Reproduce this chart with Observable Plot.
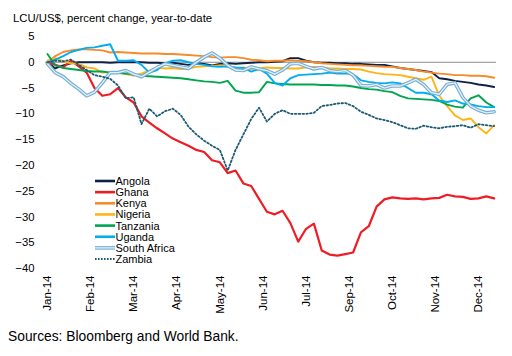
<!DOCTYPE html>
<html>
<head>
<meta charset="utf-8">
<script src="https://cdn.jsdelivr.net/npm/d3@7"></script>
<script src="https://cdn.jsdelivr.net/npm/@observablehq/plot@0.6"></script>
<style>
  html, body { margin: 0; padding: 0; background: #fff; }
  #chart svg { display: block; }
</style>
</head>
<body>
<div id="chart"></div>
<script>
// ---- Data (trading-day index, sampled every 4 days) ----
const titleText = "LCU/US$, percent change, year-to-date";
const captionText = "Sources: Bloomberg and World Bank.";
const monthLabels = ["Jan-14","Feb-14","Mar-14","Apr-14","May-14","Jun-14","Jul-14","Sep-14","Oct-14","Nov-14","Dec-14"];
const monthTickDays = [0,22,44,66,88,110,132,154,176,198,220];
const yTicks = [5,0,-5,-10,-15,-20,-25,-30,-35,-40];
const sampleStep = 4;

const angola = [0,-1.2,-0.6,-0.2,0,0,0,0,-0.1,0,0,0,0,-0.1,-0.1,-0.2,-0.1,-0.3,-0.5,-0.2,-0.3,-0.6,-0.3,-0.2,-0.3,-0.2,-0.1,0,0,0.1,0.2,0.8,0.8,0.3,0,-0.1,-0.1,-0.2,-0.2,-0.3,-0.3,-0.4,-0.5,-0.5,-0.8,-1.1,-1.3,-1.5,-1.7,-1.9,-3.1,-3.3,-3.6,-3.8,-4.0,-4.3,-4.5,-4.8];
const ghana = [0,-0.5,-1.0,0.3,-0.8,-2.0,-5.0,-6.5,-6.2,-5.0,-6.8,-7.8,-10.5,-11.7,-12.8,-13.8,-14.8,-15.5,-16.2,-17.0,-17.4,-19.0,-19.4,-21.5,-21.0,-23.5,-24.0,-26.5,-29.0,-29.5,-28.8,-31.2,-34.8,-32.3,-31.3,-36.5,-37.3,-37.5,-37.2,-36.9,-33.0,-31.8,-28.0,-26.6,-26.2,-26.4,-26.5,-26.4,-26.6,-26.4,-26.3,-25.7,-26.0,-26.1,-26.5,-26.4,-26.0,-26.4];
const kenya = [0,1.2,2.0,2.3,2.5,2.5,2.4,2.3,1.9,2.0,1.9,1.8,1.7,1.7,1.7,1.6,1.6,1.5,1.4,1.3,1.2,1.0,0.9,1.0,1.0,0.8,0.5,0.4,0.2,0.3,0.3,0.4,0.3,0.2,0,-0.2,-0.3,-0.4,-0.5,-0.6,-0.6,-0.7,-0.8,-0.9,-0.9,-1.1,-1.3,-1.5,-1.8,-2.0,-2.2,-2.3,-2.5,-2.5,-2.6,-2.6,-2.7,-3.0];
const nigeria = [0.3,0.8,0.2,-0.2,-0.3,-1.0,-1.2,-2.0,-1.9,-2.0,-2.3,-2.6,-2.2,-1.6,-1.0,-1.2,-1.1,-1.3,-1.2,-0.9,-0.8,-0.7,-0.6,-0.9,-1.2,-1.0,-1.3,-1.2,-1.0,-1.1,-1.1,-1.2,-1.2,-1.0,-0.9,-1.0,-1.2,-1.2,-1.3,-1.3,-1.4,-1.8,-2.1,-2.3,-2.4,-2.5,-2.8,-3.1,-3.4,-2.8,-6.5,-8.5,-10.3,-11.2,-10.9,-12.6,-13.8,-12.2];
const tanzania = [1.6,-0.6,-1.1,-1.3,-1.5,-1.7,-1.8,-1.8,-2.0,-2.1,-2.2,-2.4,-2.6,-2.7,-2.8,-2.9,-3.0,-3.1,-3.3,-3.5,-3.7,-3.8,-4.0,-3.6,-5.5,-5.9,-5.9,-5.8,-3.8,-4.1,-4.2,-4.3,-4.3,-4.3,-4.3,-4.4,-4.4,-4.5,-4.5,-4.7,-5.0,-5.2,-5.3,-5.6,-5.8,-6.5,-7.0,-7.1,-7.2,-7.3,-7.5,-8.2,-8.6,-8.8,-7.0,-6.4,-7.8,-8.7];
const uganda = [0,0.5,1.2,2.0,2.4,2.8,2.9,3.2,3.5,0.3,0.3,0.4,-0.5,-2.0,-1.5,-0.2,0.3,0.4,0,-0.3,-0.5,-0.8,-0.9,-0.8,-1.0,-1.1,-1.8,-1.3,-2.2,-4.0,-4.5,-3.1,-2.5,-2.4,-2.3,-2.2,-2.0,-2.2,-2.2,-2.3,-3.5,-3.8,-4.0,-4.1,-3.9,-4.1,-5.0,-5.9,-5.9,-6.2,-7.4,-7.7,-7.4,-8.0,-8.2,-8.5,-8.7,-8.7];
const southAfrica = [-0.3,-2.0,-2.8,-4.1,-5.2,-6.5,-5.8,-4.0,-2.0,-2.0,-1.6,-2.3,-2.8,-1.9,-1.0,-0.3,-0.6,-0.9,-1.2,0,1.0,1.8,0.8,-0.6,-1.5,-1.6,-0.9,-1.3,-1.6,-2.3,-1.5,-0.3,-0.2,-0.8,-1.3,-1.0,-1.6,-1.8,-1.6,-2.5,-4.5,-4.6,-4.3,-5.0,-4.6,-4.6,-4.0,-3.3,-4.3,-5.9,-6.2,-4.3,-4.0,-6.8,-8.5,-9.3,-9.8,-9.6];
const zambia = [0,0.3,0.2,0.5,-0.5,-1.5,-2.5,-2.8,-3.2,-4.5,-7.0,-6.8,-12.0,-9.0,-10.5,-9.5,-9.0,-10.2,-12.5,-14.0,-15.2,-16.2,-17.0,-21.0,-17.0,-14.0,-11.0,-8.8,-11.5,-10.0,-9.3,-10.0,-10.0,-10.0,-9.8,-8.5,-8.3,-8.0,-7.9,-8.5,-9.6,-10.2,-10.9,-11.2,-11.6,-12.2,-12.8,-12.9,-12.3,-12.6,-12.8,-12.5,-12.4,-12.2,-12.7,-12.0,-12.2,-12.4];

const seriesNames = ["Angola","Ghana","Kenya","Nigeria","Tanzania","Uganda","South Africa","Zambia"];
const seriesValues = [angola, ghana, kenya, nigeria, tanzania, uganda, southAfrica, zambia];
const seriesColors = ["#0c2147","#ee1c25","#f68b2a","#fdb515","#00a54f","#00adef","#74aed3","#1d5a74"];

// ---- Build table ----
const rows = (k) => seriesValues[k].map((v, i) => ({day: i * sampleStep, value: v, series: seriesNames[k]}));

const font = 'Arial, "Liberation Sans", Helvetica, sans-serif';
const lineMarks = [];
seriesNames.forEach((name, k) => {
  const data = rows(k);
  if (name === "South Africa") {
    lineMarks.push(Plot.lineY(data, {x: "day", y: "value", stroke: seriesColors[k], strokeWidth: 3.6}));
    lineMarks.push(Plot.lineY(data, {x: "day", y: "value", stroke: "#e4f0f8", strokeWidth: 1.3}));
  } else if (name === "Zambia") {
    lineMarks.push(Plot.lineY(data, {x: "day", y: "value", stroke: seriesColors[k], strokeWidth: 1.8, strokeDasharray: "1.6,2.2"}));
  } else {
    lineMarks.push(Plot.lineY(data, {x: "day", y: "value", stroke: seriesColors[k], strokeWidth: name === "Ghana" ? 2.2 : 1.9}));
  }
});

const chart = Plot.plot({
  width: 512,
  height: 356,
  marginTop: 36,
  marginBottom: 88,
  marginLeft: 45,
  marginRight: 16,
  style: {fontFamily: font, fontSize: "11px", color: "#000", background: "#fff"},
  x: {domain: [-1, 229.2], axis: null},
  y: {domain: [-40, 5], axis: null},
  marks: [
    Plot.ruleY([0], {stroke: "#8c8c8c", strokeWidth: 1}),
    Plot.axisY({ticks: yTicks, tickSize: 0, tickPadding: 11, label: null, fontSize: 11.3}),
    Plot.axisX({ticks: monthTickDays, tickFormat: d => monthLabels[monthTickDays.indexOf(d)], tickSize: 0, tickPadding: 7, tickRotate: -90, label: null, fontSize: 11.5}),
    ...lineMarks
  ]
});

document.getElementById("chart").appendChild(chart);

// ---- Title, caption and legend drawn into the SVG ----
const svg = d3.select(chart);
svg.append("text").attr("x", 13).attr("y", 21.5)
  .attr("text-anchor", "start")
  .attr("font-family", font).attr("font-size", 11.3).attr("fill", "#000")
  .text(titleText);
svg.append("text").attr("x", 8).attr("y", 340.5)
  .attr("text-anchor", "start")
  .attr("font-family", font).attr("font-size", 13.8).attr("fill", "#000")
  .text(captionText);

const lg = svg.append("g").attr("font-family", font).attr("font-size", 11).attr("text-anchor", "start");
seriesNames.forEach((name, k) => {
  const cy = 181 + k * 11.15;
  if (name === "South Africa") {
    lg.append("line").attr("x1", 95).attr("x2", 115).attr("y1", cy).attr("y2", cy).attr("stroke", seriesColors[k]).attr("stroke-width", 3.6);
    lg.append("line").attr("x1", 95).attr("x2", 115).attr("y1", cy).attr("y2", cy).attr("stroke", "#e4f0f8").attr("stroke-width", 1.3);
  } else if (name === "Zambia") {
    lg.append("line").attr("x1", 95).attr("x2", 115).attr("y1", cy).attr("y2", cy).attr("stroke", seriesColors[k]).attr("stroke-width", 2).attr("stroke-dasharray", "1.6,1.4");
  } else {
    lg.append("line").attr("x1", 95).attr("x2", 115).attr("y1", cy).attr("y2", cy).attr("stroke", seriesColors[k]).attr("stroke-width", 2.6);
  }
  lg.append("text").attr("x", 115.5).attr("y", cy + 4).attr("fill", "#000").text(name);
});
</script>
</body>
</html>
